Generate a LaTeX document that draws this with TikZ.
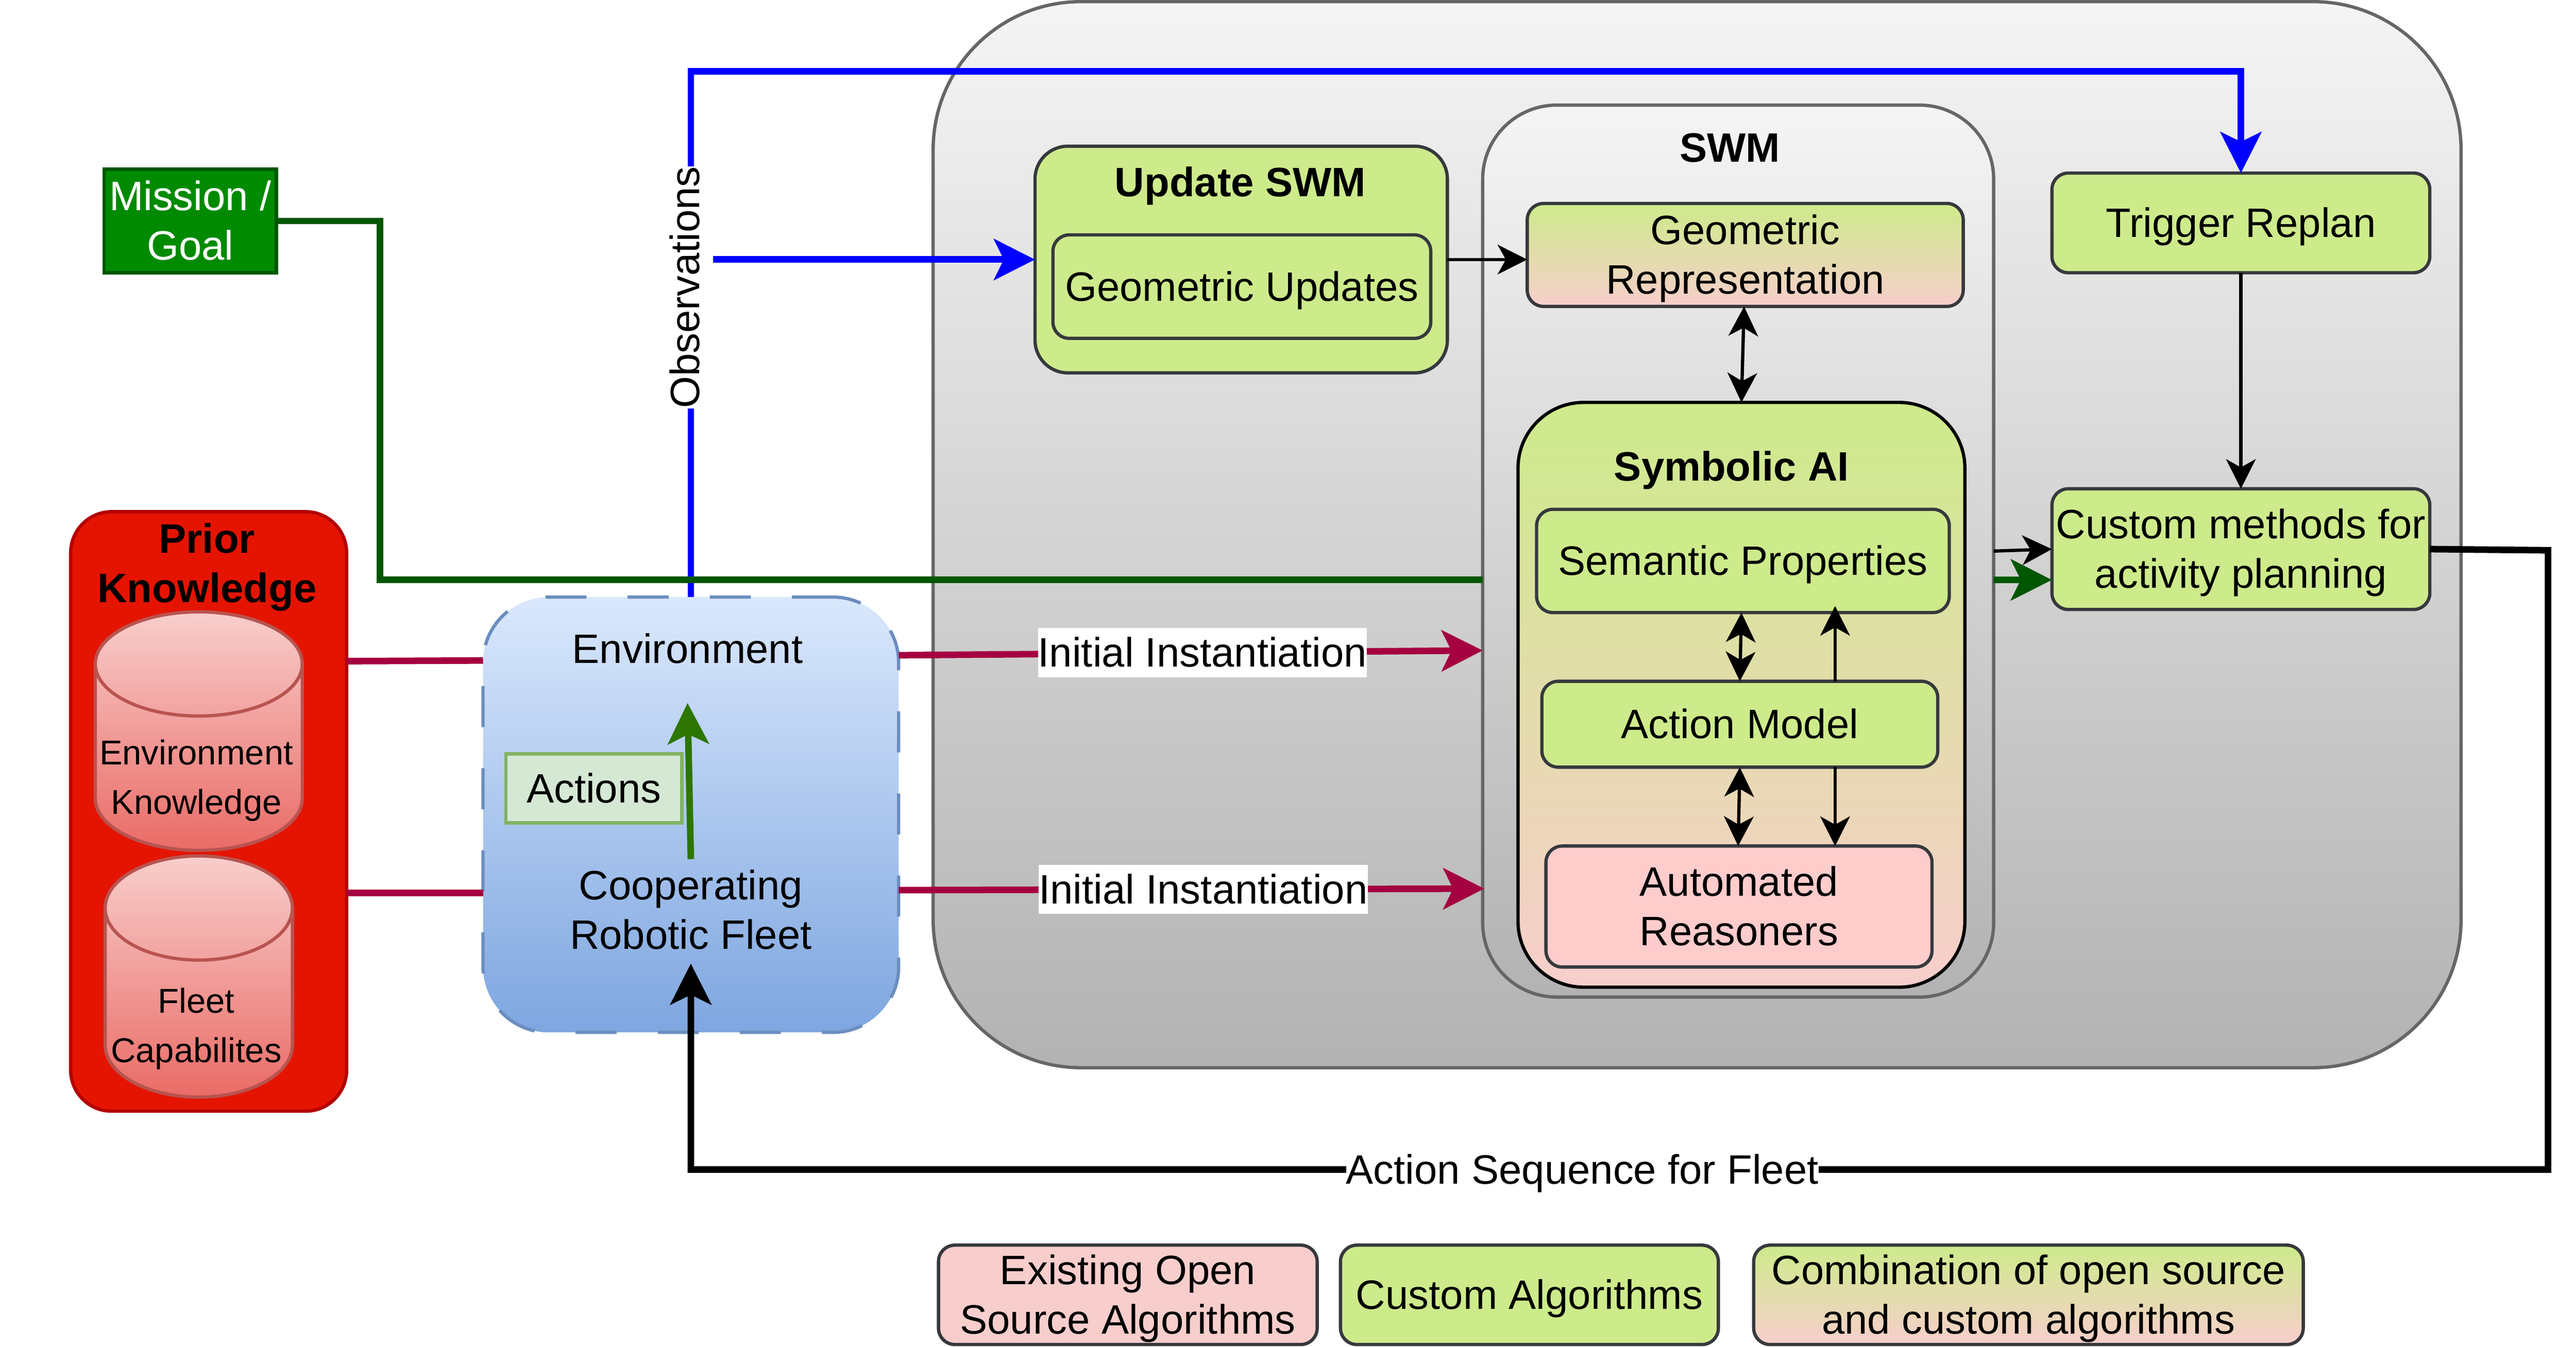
\documentclass[tikz,border=0pt]{standalone}
\usepackage{fontspec}
\setmainfont{Liberation Sans}
\usetikzlibrary{positioning}
\usetikzlibrary{arrows.meta}

\definecolor{greenfill}{HTML}{CDEB8B}
\definecolor{pinkfill}{HTML}{F8CECC}
\definecolor{darkstroke}{HTML}{36393D}
\definecolor{redline}{HTML}{A50040}
\definecolor{goalgreen}{HTML}{005700}
\definecolor{actiongreen}{HTML}{2D7600}
\definecolor{cylstroke}{HTML}{B85450}
\definecolor{cylbottom}{HTML}{EA6B66}
\definecolor{priorfill}{HTML}{E51400}
\definecolor{priorstroke}{HTML}{B20000}
\definecolor{fleettop}{HTML}{DAE8FC}
\definecolor{fleetbottom}{HTML}{7EA6E0}
\definecolor{fleetstroke}{HTML}{6C8EBF}
\definecolor{actionfill}{HTML}{D5E8D4}
\definecolor{actionstroke}{HTML}{82B366}
\definecolor{missionfill}{HTML}{008A00}
\definecolor{reasonerfill}{HTML}{FFCCCC}
\newcommand{\linestrut}{\rule[-6.34pt]{0pt}{30pt}}
\tikzset{
	txt/.style={font=\fontsize{25}{30}\selectfont, align=center, outer sep=0pt, inner sep=0pt, execute at begin node=\linestrut, execute at end node=\linestrut},
	twoline/.style={text height=53.66pt, text depth=6.34pt},
	smalltxt/.style={txt, twoline, font=\fontsize{21}{30}\selectfont},
	boldtxt/.style={txt, font=\fontsize{25}{30}\selectfont\bfseries},
	greenbox/.style={txt, draw=darkstroke, line width=2pt, fill=greenfill, rounded corners=10pt},
	mixbox/.style={txt, twoline, draw=darkstroke, line width=2pt, top color=greenfill, bottom color=pinkfill, rounded corners=10pt},
	pinkbox/.style={txt, twoline, draw=darkstroke, line width=2pt, fill=pinkfill, rounded corners=10pt},
	graybox/.style={draw=black!60, line width=2pt, top color=black!4, bottom color=black!30, inner sep=0pt, outer sep=0pt},
	cylfill/.style={draw=cylstroke, line width=2pt, top color=pinkfill, bottom color=cylbottom},
	bigtip/.style={-{Stealth[length=25pt,width=25pt,inset=6pt]}, line width=4pt},
	thintip/.style={-{Stealth[length=18pt,width=18pt,inset=5pt]}, line width=2pt},
	bothtip/.style={{Stealth[length=18pt,width=18pt,inset=5pt]}-{Stealth[length=18pt,width=18pt,inset=5pt]}, line width=2pt},
	edgelabel/.style={txt, fill=white}
}

\begin{document}
\begin{tikzpicture}[x=1pt, y=-1pt]
	\useasboundingbox (0,0) rectangle (1568,820);

	% grey system box and the swm box
	\node (system) [graybox, rounded corners=90pt, minimum width=930pt, minimum height=649pt] at (1033,325.5) {};
	\node (mission) [txt, twoline, draw=goalgreen, line width=2pt, fill=missionfill, text=white, minimum width=105pt, minimum height=63pt] at (115.8,134.5) {Mission /\\Goal};
	\node (swm) [graybox, rounded corners=45pt, minimum width=311pt, minimum height=543pt] at (1058,335.5) {};

	% prior knowledge
	\node (prior) [boldtxt, draw=priorstroke, line width=2pt, fill=priorfill, rounded corners=25pt, minimum width=168pt, minimum height=365pt] at (127,494) {};
	\node (priorlabel) [boldtxt, twoline] at (126,343) {Prior\\Knowledge};
	\path[cylfill] (58,404.2) -- (58,486) arc[start angle=180, end angle=360, x radius=63pt, y radius=31.7pt] -- (184,404.2) arc[start angle=0, end angle=180, x radius=63pt, y radius=31.7pt] arc[start angle=180, end angle=360, x radius=63pt, y radius=31.7pt];
	\node (envknow) [smalltxt] at (119.5,472) {Environment\\Knowledge};
	\path[cylfill] (64,552.8) -- (64,636.2) arc[start angle=180, end angle=360, x radius=57pt, y radius=31.7pt] -- (178,552.8) arc[start angle=0, end angle=180, x radius=57pt, y radius=31.7pt] arc[start angle=180, end angle=360, x radius=57pt, y radius=31.7pt];
	\node (fleetcap) [smalltxt] at (119.5,623) {Fleet\\Capabilites};

	% robotic fleet
	\node (fleet) [draw=fleetstroke, dash pattern=on 25pt off 25pt, line width=2pt, top color=fleettop, bottom color=fleetbottom, rounded corners=40pt, minimum width=253pt, minimum height=265pt, inner sep=0pt, outer sep=0pt] at (420.5,496) {};
	\node (envlabel) [txt, minimum height=66pt] at (418.5,395) {Environment};
	\node (fleetlabel) [txt, twoline, minimum height=62pt] at (420.5,554) {Cooperating\\Robotic Fleet};
	\node (actions) [txt, draw=actionstroke, line width=2pt, fill=actionfill, minimum width=107pt, minimum height=42pt] at (361.5,480) {Actions};
	\draw[bigtip, actiongreen] (fleetlabel.north) -- (envlabel.south);

	% update swm
	\node (update) [greenbox, rounded corners=20pt, minimum width=251pt, minimum height=138pt] at (755.5,158) {};
	\node (updatelabel) [boldtxt] at (755,111) {Update SWM};
	\node (geoupdates) [greenbox, minimum width=230pt, minimum height=63pt] at (755.9,174.5) {Geometric Updates};

	% swm contents
	\node (swmlabel) [boldtxt] at (1053,90) {SWM};
	\node (georep) [mixbox, minimum width=265.4pt, minimum height=62.7pt] at (1062.3,155.2) {Geometric\\Representation};
	\node (symbolic) [draw=black, line width=2pt, top color=greenfill, bottom color=pinkfill, rounded corners=40pt, minimum width=272pt, minimum height=356pt, inner sep=0pt, outer sep=0pt] at (1060,423) {};
	\node (symboliclabel) [boldtxt] at (1054,284) {Symbolic AI};
	\node (semantic) [greenbox, minimum width=251.2pt, minimum height=62.9pt] at (1060.9,341.5) {Semantic Properties};
	\node (action) [greenbox, below=41.8pt of semantic, xshift=-1.9pt, minimum width=241pt, minimum height=52.3pt] {Action Model};
	\node (reasoners) [greenbox, twoline, fill=reasonerfill, below=48pt of action, xshift=-0.5pt, minimum width=235pt, minimum height=73.7pt] {Automated\\Reasoners};

	% right column
	\node (replan) [greenbox, minimum width=230pt, minimum height=60.7pt] at (1364,135.7) {Trigger Replan};
	\node (custom) [greenbox, twoline, below=131.5pt of replan, minimum width=230pt, minimum height=73.5pt] {Custom methods for\\activity planning};

	% legend
	\node (legendopen) [pinkbox, minimum width=230.5pt, minimum height=60.5pt] at (686.5,788.3) {Existing Open\\Source Algorithms};
	\node (legendcustom) [greenbox, right=14.2pt of legendopen, minimum width=230pt, minimum height=60.5pt] {Custom Algorithms};
	\node (legendmix) [mixbox, right=21.5pt of legendcustom, minimum width=334.5pt, minimum height=60.5pt] {Combination of open source\\and custom algorithms};

	% connectors
	\draw[bigtip, blue] (fleet.north) -- ++(0,-320) -| (replan.north);
	\node (observations) [edgelabel, rotate=90] at (417,175) {Observations};
	\coordinate (obsstart) at (434,158);
	\draw[bigtip, blue] (obsstart) -- (update.west);
	\draw[line width=4pt, goalgreen] (mission.east) -- ++(63,0) |- (swm.west |- 0,353);
	\draw[bigtip, goalgreen] (swm.east |- 0,353) -- ([yshift=-18.75pt]custom.west);
	\draw[thintip] (update.east) -- (georep.west |- update.east);
	\draw[bothtip] ([xshift=-0.7pt]georep.south) -- (symbolic.north);
	\draw[bothtip] ([xshift=-0.9pt]semantic.south) -- (action.north);
	\draw[thintip] ([xshift=58pt]action.north) -- ([xshift=58pt,yshift=4pt]action.north |- semantic.south);
	\draw[bothtip] (action.south) -- ([xshift=-0.5pt]reasoners.north);
	\draw[thintip] ([xshift=58pt]action.south) -- ([xshift=58pt]action.south |- reasoners.north);
	\draw[thintip] (replan.south) -- (custom.north);
	\draw[thintip] (swm.east) -- (custom.west);
	\draw[line width=4pt, redline] ([yshift=-91pt]prior.north east) -- ([yshift=-38.6pt]fleet.north west);
	\draw[line width=4pt, redline] ([yshift=-232pt]prior.north east) -- ([yshift=-180pt]fleet.north west);
	\draw[bigtip, redline] ([yshift=-35.4pt]fleet.north east) -- ([yshift=-332pt]swm.north west) node (initone) [edgelabel, text=black, pos=.52] {Initial Instantiation};
	\draw[bigtip, redline] ([yshift=-178.4pt]fleet.north east) -- ([xshift=1pt,yshift=-477pt]swm.north west) node (inittwo) [edgelabel, text=black, pos=.52] {Initial Instantiation};
	\draw[bigtip, black] (custom.east) -- (1551,335) -- (1551,712) -- (fleet.south |- 0,712) node (sequence) [edgelabel, pos=.52] {Action Sequence for Fleet} -- ([yshift=41.9pt]fleet.south);
\end{tikzpicture}
\end{document}
